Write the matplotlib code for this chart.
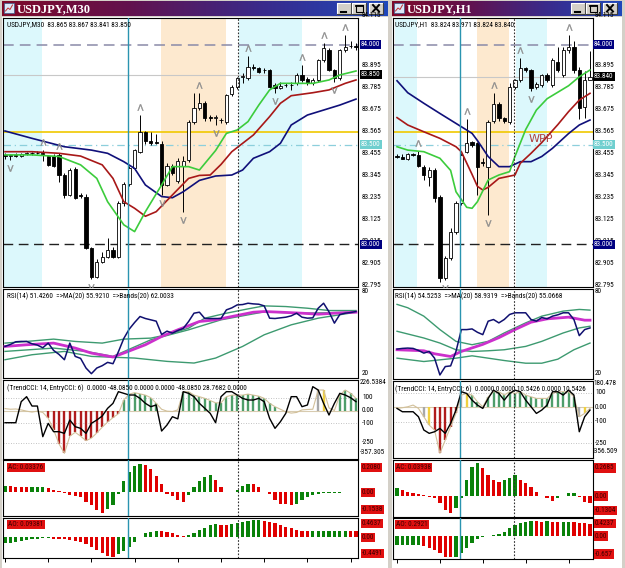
import matplotlib
matplotlib.use('Agg')
import matplotlib.pyplot as plt
from matplotlib.patches import Rectangle
from matplotlib.colors import LinearSegmentedColormap
from matplotlib.transforms import blended_transform_factory as btf
from matplotlib import font_manager
import numpy as np

# ======================= DATA =======================
# ---- Left window: USDJPY, M30 (66 bars) ----
m30_open = [83.445,83.440,83.445,83.442,83.450,83.456,83.460,83.455,83.440,83.440,83.448,83.347,83.247,83.377,83.245,83.238,82.979,82.837,82.912,82.937,
            82.971,82.937,83.205,83.300,83.380,83.465,83.561,83.518,83.512,83.505,83.297,83.390,83.315,83.390,83.423,83.615,83.682,83.707,83.640,83.632,
            83.625,83.615,83.755,83.791,83.838,83.833,83.891,83.883,83.875,83.875,83.798,83.785,83.798,83.800,83.807,83.850,83.830,83.807,83.825,83.925,
            83.975,83.875,83.833,83.975,83.992,83.995]
m30_high = [83.455,83.450,83.455,83.458,83.462,83.465,83.468,83.475,83.448,83.450,83.455,83.355,83.380,83.385,83.255,83.250,82.985,82.925,82.962,83.030,
            82.985,83.215,83.310,83.390,83.480,83.648,83.570,83.565,83.555,83.520,83.405,83.400,83.430,83.440,83.625,83.757,83.760,83.720,83.650,83.650,
            83.635,83.755,83.800,83.840,83.860,83.945,83.905,83.890,83.885,83.880,83.810,83.815,83.810,83.812,83.860,83.900,83.840,83.835,83.930,84.008,
            83.985,83.880,83.980,84.050,84.020,84.010]
m30_low = [83.428,83.422,83.438,83.436,83.445,83.448,83.452,83.415,83.390,83.385,83.313,83.230,83.240,83.225,83.230,82.975,82.825,82.830,82.905,82.930,
           82.930,82.930,83.190,83.290,83.370,83.460,83.505,83.500,83.505,83.247,83.290,83.345,83.305,83.160,83.410,83.605,83.675,83.620,83.620,83.600,
           83.610,83.605,83.745,83.780,83.810,83.825,83.875,83.858,83.860,83.785,83.760,83.780,83.790,83.775,83.800,83.815,83.800,83.800,83.815,83.915,
           83.870,83.815,83.825,83.965,83.985,83.975]
m30_close = [83.440,83.445,83.442,83.450,83.456,83.460,83.455,83.452,83.398,83.390,83.347,83.247,83.372,83.233,83.240,82.979,82.837,82.912,82.937,82.971,
             82.937,83.205,83.300,83.380,83.473,83.565,83.518,83.510,83.510,83.297,83.390,83.355,83.415,83.415,83.615,83.682,83.707,83.632,83.632,83.640,
             83.622,83.748,83.791,83.833,83.842,83.891,83.883,83.863,83.872,83.791,83.785,83.795,83.800,83.797,83.850,83.825,83.807,83.825,83.925,83.983,
             83.875,83.833,83.975,83.991,83.995,83.990]
m30_up_fractals = [7, 10, 25, 36, 45, 55, 59, 63]
m30_dn_fractals = [1, 16, 29, 33, 39, 50, 61]
m30_fast_x = [0,5,10,14,17,19,22,24,26,29,31,34,36,39,41,43,45,47,49,51,53,57,60,62,65]
m30_fast = [83.448,83.448,83.440,83.398,83.330,83.213,83.097,83.063,83.163,83.297,83.389,83.389,83.372,83.470,83.556,83.573,83.615,83.698,83.774,83.807,83.807,83.807,83.824,83.849,83.869]
m30_mid_x = [0,5,10,14,18,20,22,24,26,28,31,34,36,38,40,42,44,46,49,51,53,57,60,63,65]
m30_mid = [83.464,83.464,83.456,83.442,83.398,83.330,83.213,83.180,83.140,83.163,83.247,83.330,83.345,83.347,83.400,83.464,83.506,83.548,83.640,83.707,83.745,83.760,83.774,83.807,83.824]
m30_slow_x = [0,5,11,16,19,22,24,26,29,31,33,36,39,42,44,46,49,51,53,56,59,62,65]
m30_slow = [83.568,83.531,83.489,83.472,83.456,83.414,83.380,83.297,83.239,83.233,83.263,83.320,83.342,83.347,83.372,83.431,83.464,83.506,83.598,83.648,83.673,83.698,83.728]
m30_sessions = [(-0.4, 6.85, 'asia'), (28.9, 40.9, 'europe'), (43.3, 55.0, 'asia')]
m30_vlines = [22.8, 43.1]
m30_bid = 83.850
m30_info = 'USDJPY,M30  83.865 83.867 83.841 83.850'

m30_rsi = [40,41.5,43.5,43.75,43.75,42,41,39,42.5,37,34,30,42.5,32.5,31,23.75,19.5,23.75,25.5,28,27,36,46,53,58,62.5,61,60,59,49,
           51.5,50,52,53.5,58.75,65,65.75,61,61,61,61,67.5,69,71.25,71.5,72.5,72,71.75,70.5,61.25,61,61.5,62,63,65,62,61.25,61.5,68.75,72.5,
           66,57.5,64,65,65.5,66.25]
m30_rsi_ma_x = [0,4,9,13,16,20,22,26,29,32,36,39,42,46,48,51,55,58,61,65]
m30_rsi_ma = [40,41.25,42.5,38.75,35,32,35,41.25,47.5,52.5,58.75,60,62.5,65.75,66.25,65.75,65,64.25,65,65.75]
m30_band_up_x = [0,4,9,13,18,22,27,30,34,37,41,45,48,52,56,60,65]
m30_band_up = [42.5,43.75,45.5,43.75,42.5,45.5,46.25,48.75,53.75,61.25,65,68.25,70.5,70,68.75,67,67]
m30_band_mid_x = [0,9,15,20,27,34,40,48,55,65]
m30_band_mid = [36.25,38.75,36.25,32.5,45,52.5,60,66,65,65.75]
m30_band_lo_x = [0,5,11,16,24,30,35,39,44,48,53,58,65]
m30_band_lo = [30,33.75,36.25,32.5,31.25,28.75,27.5,31.25,40,48.75,56.25,61.25,65.75]
m30_rsi_text = 'RSI(14) 51.4260  =>MA(20) 55.9210  =>Bands(20) 62.0033'

m30_cci_trend = [15,10,12,5,-5,-12,-5,-15,-60,-150,-260,-334,-200,-170,-200,-235,-215,-175,-130,-90,-55,-25,82,128,139,130,120,100,56,10,
                 -5,-8,5,147,147,120,108,95,78,60,60,108,120,120,120,128,120,112,95,56,30,10,-10,-20,-15,5,8,10,160,160,
                 20,0,120,160,135,95]
m30_cci_state = 'nnnnnnnnrrrrrrrrrrrrrrgggggggnnnnggggggggggggggggggnnnnnnnkynngggg'
m30_cci_entry = [-95,-95,-95,69,108,35,35,-204,-100,-165,-165,-178,-74,-126,-139,-178,-100,-74,-43,17,56,147,134,121,121,95,56,30,43,-160,
                 -113,-48,-65,147,134,108,56,17,-22,-95,108,147,147,121,95,82,82,95,69,-61,-139,-87,-22,108,108,30,43,186,160,56,
                 -35,56,134,121,100,69]
m30_cci_text = '(TrendCCI: 14, EntryCCI: 6)  0.0000 -48.0850 0.0000 0.0000 -48.0850 28.7682 0.0000'
m30_cci_labels = [('226.5384', 'top'), ('100', 100), ('0.00', 0), ('-100', -100), ('-250', -250), ('-357.305', 'bottom')]

m30_ac = [0.050,0.045,0.0425,0.0375,0.036,0.037,0.038,0.039,0.0325,0.0175,0.005,-0.0075,-0.025,-0.030,-0.0375,-0.075,-0.100,-0.1375,-0.1625,-0.125,
          -0.095,-0.0125,0.0875,0.150,0.200,0.2175,0.2075,0.175,0.125,0.0625,-0.0125,-0.0325,-0.0575,-0.075,-0.025,0.0425,0.0875,0.1175,0.1325,0.0925,
          0.0375,0.002,-0.001,0.0175,0.050,0.0625,0.060,0.0425,0.000,-0.0125,-0.0575,-0.0875,-0.0925,-0.100,-0.0875,-0.0625,-0.0375,-0.025,-0.0125,-0.0075,
          -0.005,-0.004,-0.003,-0.002,-0.001,0.000]
m30_ao = [-0.148,-0.131,-0.107,-0.082,-0.066,-0.049,-0.041,-0.025,-0.022,-0.033,-0.041,-0.049,-0.066,-0.082,-0.107,-0.164,-0.246,-0.312,-0.394,-0.459,
          -0.476,-0.410,-0.328,-0.230,-0.107,0.005,0.098,0.139,0.164,0.162,0.131,0.098,0.057,0.033,0.057,0.115,0.180,0.221,0.303,0.328,
          0.303,0.300,0.328,0.361,0.385,0.410,0.426,0.430,0.410,0.385,0.344,0.303,0.262,0.221,0.180,0.164,0.156,0.158,0.160,0.161,
          0.162,0.164,0.165,0.166,0.160,0.155]
m30_ac_text, m30_ac_lbl = 'AC: 0.03376', ['0.2080', '0.00', '-0.1538']
m30_ao_text, m30_ao_lbl = 'AO: 0.09381', ['0.4637', '0.00', '-0.4491']

# ---- Right window: USDJPY, H1 (37 bars) ----
h1_open = [83.440,83.438,83.427,83.451,83.447,83.389,83.339,83.372,83.238,82.828,82.929,83.063,83.205,83.464,83.514,83.506,83.414,83.389,83.620,83.702,
           83.631,83.615,83.790,83.824,83.882,83.874,83.790,83.799,83.849,83.799,83.916,83.849,83.974,83.990,83.874,83.690,83.824]
h1_high = [83.450,83.452,83.455,83.458,83.470,83.395,83.385,83.380,83.245,82.940,83.080,83.215,83.455,83.630,83.520,83.515,83.430,83.625,83.757,83.712,
           83.640,83.810,83.830,83.933,83.890,83.880,83.815,83.855,83.860,83.935,83.990,83.990,84.050,84.020,83.890,83.870,83.971]
h1_low = [83.432,83.425,83.420,83.440,83.388,83.322,83.290,83.213,82.810,82.820,82.920,83.050,83.195,83.455,83.490,83.247,83.390,83.146,83.610,83.620,
          83.610,83.605,83.780,83.815,83.865,83.770,83.780,83.790,83.815,83.790,83.865,83.840,83.960,83.860,83.630,83.633,83.824]
h1_close = [83.438,83.428,83.451,83.445,83.394,83.347,83.372,83.230,82.828,82.929,83.063,83.205,83.448,83.506,83.498,83.389,83.405,83.615,83.702,83.631,
            83.620,83.790,83.824,83.882,83.874,83.785,83.802,83.849,83.824,83.924,83.874,83.974,83.991,83.874,83.682,83.824,83.840]
h1_up_fractals = [4, 13, 18, 23, 32]
h1_dn_fractals = [9, 17, 25]
h1_fast_x = [0,2,5,8,10,11,13,14,15,17,19,21,22,24,26,28,32,34,36]
h1_fast = [83.489,83.472,83.464,83.431,83.370,83.263,83.185,83.180,83.213,83.322,83.347,83.364,83.440,83.575,83.673,83.730,83.795,83.840,83.874]
h1_mid_x = [0,2,5,8,11,12,14,15,16,17,19,22,23,25,27,30,32,34,36]
h1_mid = [83.635,83.598,83.564,83.531,83.489,83.464,83.350,83.290,83.272,83.285,83.330,83.347,83.406,83.456,83.510,83.600,83.665,83.723,83.757]
h1_slow_x = [0,2,5,8,11,14,15,17,19,21,23,25,27,29,32,34,36]
h1_slow = [83.820,83.760,83.707,83.656,83.606,83.556,83.520,83.440,83.389,83.389,83.414,83.414,83.440,83.481,83.555,83.598,83.623]
h1_sessions = [(-0.4, 3.73, 'asia'), (14.9, 20.9, 'europe'), (22.2, 28.0, 'asia')]
h1_vlines = [11.75, 21.8]
h1_bid = 83.840
h1_info = 'USDJPY,H1  83.824 83.971 83.824 83.840'

h1_rsi = [38.5,39,39.25,39,37.5,35.5,36.75,31.75,19.25,25.5,26,36.75,53,53,53.5,51,49.25,59.25,60.5,58,
          60.5,64.25,65.5,65.5,65.5,60.5,59.25,62,61,63,64,65.5,65.5,60.5,48.5,53,54.25]
h1_rsi_ma_x = [0,5,7,10,12,16,19,22,25,28,32,35,36]
h1_rsi_ma = [38,37.25,35,33,36.75,42,47,53,58.5,61,62.25,60,60]
h1_band_up_x = [0,2,5,8,11,14,17,20,24,27,31,34,36]
h1_band_up = [71.75,69.25,63,53,44.25,41.75,44.25,50.5,58,63,66.75,68,67.5]
h1_band_mid_x = [0,5,8,11,14,17,20,24,27,31,34,36]
h1_band_mid = [51.75,46.75,43,38,36.75,37.25,38,40.5,44.25,50.5,54.25,55.5]
h1_band_lo_x = [0,5,8,11,14,17,20,24,27,30,33,36]
h1_band_lo = [31.75,29.25,30.5,31.75,33.5,31.75,30,28,28,31,38,43]
h1_rsi_text = 'RSI(14) 54.5253  =>MA(20) 58.9319  =>Bands(20) 55.0668'

h1_cci_trend = [-8,-3.4,3.4,15,-8,-65.5,-123,-157,-318,-226,-134,-42.5,84,95,84,38,3.4,72,107,107,
                84,107,95,107,84,72,61,61,61,95,107,107,107,72,-65.5,-42.5,-8]
h1_cci_state = 'nnnnnkyrrrrrkyggggggggggggggggggggkyn'
h1_cci_entry = [-8,-31,-31,-31,-65.5,-157,-180,-169,-146,-180,-111,-19.5,107,95,49,15,-8,61,118,95,
                49,95,118,107,49,3.4,-42.5,-19.5,15,107,107,84,118,84,-169,-65.5,-19.5]
h1_cci_text = '(TrendCCI: 14, EntryCCI: 6)  0.0000 0.0000 10.5426 0.0000 10.5426'
h1_cci_labels = [('180.478', 'top'), ('100', 100), ('0.00', 0), ('-100', -100), ('-250', -250), ('-356.509', 'bottom')]

h1_ac = [0.062,0.049,0.030,0.022,0.0135,0.008,-0.005,-0.019,-0.059,-0.113,-0.140,-0.100,-0.019,0.130,0.238,0.265,0.224,0.170,0.130,0.116,
         0.130,0.143,0.170,0.130,0.103,0.076,0.035,0.000,-0.019,-0.038,-0.019,0.000,0.022,0.023,-0.011,-0.046,-0.054]
h1_ao = [-0.286,-0.281,-0.275,-0.270,-0.265,-0.306,-0.377,-0.428,-0.530,-0.632,-0.653,-0.632,-0.530,-0.377,-0.224,-0.102,-0.020,0.005,0.031,0.061,
         0.133,0.235,0.337,0.388,0.439,0.469,0.465,0.439,0.445,0.430,0.425,0.439,0.442,0.439,0.408,0.388,0.357]
h1_ac_text, h1_ac_lbl = 'AC: 0.03938', ['0.2685', '0.00', '-0.1304']
h1_ao_text, h1_ao_lbl = 'AO: 0.2921', ['0.4237', '0.00', '-0.657']

price_ticks = [84.115, 83.895, 83.785, 83.675, 83.565, 83.455, 83.345, 83.235, 83.125, 83.015, 82.905, 82.795]
level_boxes = [(84.000, '#000080', 'white'), (83.500, '#6fcfcf', 'white'), (83.000, '#000080', 'white')]

# ======================= FONTS =======================
_names = {f.name for f in font_manager.fontManager.ttflist}
SANS, FS = 'Liberation Sans', 4.6
for cand in ('Liberation Sans Narrow', 'DejaVu Sans Condensed', 'Roboto Condensed'):
    if cand in _names:
        SANS, FS = cand, 5.2
        break

# ======================= FIGURE =======================
W, H = 625, 568
fig = plt.figure(figsize=(W / 100, H / 100), dpi=100)
fig.patch.set_facecolor('#d4d0c8')
bg = fig.add_axes([0, 0, 1, 1], zorder=0)
bg.axis('off')


def rect(x0, y0, x1, y1, **kw):
    bg.add_patch(Rectangle((x0, y0), x1 - x0, y1 - y0, **kw))


cmap_tb = LinearSegmentedColormap.from_list('tb', ['#7e0a2a', '#62124e', '#3a2a8a', '#1f48bb'])
grad = np.linspace(0, 1, 256).reshape(1, -1)


def window_frame(x0, x1, title):
    rect(x0, 17, x1, H, fc='white', ec='none', zorder=0.5)
    bg.imshow(grad, cmap=cmap_tb, extent=[x0, x1, 16, 1], aspect='auto', zorder=1)
    rect(x0 + 2, 3, x0 + 12, 13, fc='#dce8f8', ec='#3a5a8a', lw=0.5, zorder=2)
    bg.plot([x0 + 3.5, x0 + 6, x0 + 8, x0 + 10.5], [11, 8, 9.5, 5], color='#c03030', lw=0.7, zorder=3)
    bg.text(x0 + 15, 8.8, title, color='white', fontsize=9, fontweight='bold',
            family='Liberation Serif', va='center', ha='left', zorder=3)
    bx = [x1 - 51, x1 - 36, x1 - 19]
    for i, b in enumerate(bx):
        rect(b, 3, b + 14, 14, fc='#d4d0c8', ec='none', zorder=2)
        bg.plot([b, b, b + 14], [14, 3, 3], color='white', lw=0.8, zorder=3)
        bg.plot([b, b + 14, b + 14], [14, 14, 3], color='#404040', lw=0.8, zorder=3)
        if i == 0:
            bg.plot([b + 4, b + 9], [11.5, 11.5], color='black', lw=1.5, zorder=4)
        elif i == 1:
            rect(b + 3.5, 5, b + 10.5, 11.5, fc='none', ec='black', lw=0.8, zorder=4)
            bg.plot([b + 3.5, b + 10.5], [5.5, 5.5], color='black', lw=1.3, zorder=4)
        else:
            bg.plot([b + 4, b + 10], [5, 11.5], color='black', lw=1.4, zorder=4)
            bg.plot([b + 4, b + 10], [11.5, 5], color='black', lw=1.4, zorder=4)


window_frame(2, 388, 'USDJPY,M30')
window_frame(392, 622, 'USDJPY,H1')
bg.set_xlim(0, W)
bg.set_ylim(H, 0)


def pane(box, xlim, ylim):
    x0, y0, x1, y1 = box
    ax = fig.add_axes([x0 / W, 1 - y1 / H, (x1 - x0) / W, (y1 - y0) / H], zorder=2)
    ax.set_facecolor('white')
    ax.set_xlim(*xlim)
    ax.set_ylim(*ylim)
    ax.set_xticks([])
    ax.set_yticks([])
    for s in ax.spines.values():
        s.set_color('black')
        s.set_linewidth(0.8)
    return ax


def rtext(ax, xpx, y, s, box=None, fc='black', color='black', frac=False, va='center'):
    tr = btf(bg.transData, ax.transAxes if frac else ax.transData)
    kw = dict(fontsize=FS, family=SANS, color=color, ha='left', va=va, transform=tr, zorder=10, clip_on=False)
    if box:
        kw['bbox'] = dict(boxstyle='square,pad=0.15', fc=fc, ec='none')
    ax.text(xpx, y, s, **kw)


def candles(ax, o, h, l, c):
    o, h, l, c = map(np.asarray, (o, h, l, c))
    x = np.arange(len(o))
    ax.vlines(x, l, h, color='black', lw=0.7, zorder=4)
    bull = c >= o
    bot = np.minimum(o, c)
    hgt = np.maximum(np.abs(c - o), 0.002)
    ax.bar(x[bull], hgt[bull], bottom=bot[bull], width=0.62, color='white', edgecolor='black', lw=0.6, zorder=5)
    ax.bar(x[~bull], hgt[~bull], bottom=bot[~bull], width=0.62, color='black', edgecolor='black', lw=0.6, zorder=5)


sess_col = {'asia': '#dcf8fc', 'europe': '#fde9cf'}


def draw_chart(cfg):
    (x0, x1, axx, ptx, xlim, o, h, l, c, upf, dnf, fast, mid, slow, sessions, bid, info,
     rsi, rma, bup, bmid, blo, rsitxt, ctrend, cstate, centry, ctxt, clabels, cylim,
     ac, ao, actxt, aclbl, aotxt, aolbl, acylim, aoylim, ys) = cfg
    axes = []
    main = pane((x0, ys[0][0], x1, ys[0][1]), xlim, (82.785, 84.135))
    axes.append(main)
    for a, b, k in sessions:
        main.axvspan(a, b, color=sess_col[k], lw=0, zorder=0)
    main.axhline(84.000, color='#8a8aa8', lw=1.1, ls=(0, (7, 4)), zorder=1)
    main.axhline(bid, color='#c8c8c8', lw=0.8, zorder=1)
    main.axhline(83.565, color='#f0c800', lw=1.2, zorder=1)
    main.axhline(83.500, color='#8ccfdc', lw=0.9, ls=(0, (6, 3, 1, 3)), zorder=1)
    main.axhline(83.000, color='#202020', lw=1.0, ls=(0, (7, 4)), zorder=1)
    candles(main, o, h, l, c)
    main.plot(slow[0], slow[1], color='#10107a', lw=1.2, zorder=6)
    main.plot(mid[0], mid[1], color='#a81818', lw=1.2, zorder=6)
    main.plot(fast[0], fast[1], color='#3ccc3c', lw=1.2, zorder=6)
    h_arr, l_arr = np.asarray(h), np.asarray(l)
    main.scatter(upf, h_arr[upf] + 0.04, marker=r'$\Lambda$', s=20, color='#8c8c8c', lw=0.3, zorder=7)
    main.scatter(dnf, l_arr[dnf] - 0.04, marker=r'$\mathsf{V}$', s=20, color='#8c8c8c', lw=0.3, zorder=7)
    main.text(0.012, 0.987, info, transform=main.transAxes, fontsize=FS, family=SANS, va='top', ha='left', zorder=8)
    main.text(axx, 83.53, 'WPP', fontsize=8, family='DejaVu Sans', color='#b04040', va='center', ha='left', zorder=8)
    for p in price_ticks:
        yy = p if p < 84.1 else p + 0.035
        rtext(main, ptx, yy, f'{p:.3f}')
    for p, fc, col in level_boxes:
        rtext(main, ptx - 1, p, f'{p:.3f}', box=True, fc=fc, color=col)
    rtext(main, ptx - 1, bid, f'{bid:.3f}', box=True, fc='black', color='white')

    rax = pane((x0, ys[1][0], x1, ys[1][1]), xlim, (16.25, 83.2))
    axes.append(rax)
    rax.plot(bup[0], bup[1], color='#3d9a70', lw=1.0, zorder=2)
    rax.plot(bmid[0], bmid[1], color='#3d9a70', lw=1.0, zorder=2)
    rax.plot(blo[0], blo[1], color='#3d9a70', lw=1.0, zorder=2)
    rax.plot(rma[0], rma[1], color='#cc30cc', lw=2.0, zorder=3)
    rax.plot(np.arange(len(rsi)), rsi, color='#101070', lw=1.1, zorder=4)
    rax.text(0.012, 0.96, rsitxt, transform=rax.transAxes, fontsize=FS, family=SANS, va='top', ha='left', zorder=8)
    rtext(rax, ptx, 81, '80')
    rtext(rax, ptx, 20, '20')

    cax = pane((x0, ys[2][0], x1, ys[2][1]), xlim, cylim)
    axes.append(cax)
    colmap = {'r': '#b01c1c', 'g': '#4e9e6a', 'k': '#a8a8a8', 'y': '#f0d040'}
    xs = np.arange(len(ctrend))
    for st, col in colmap.items():
        sel = np.array([ch == st for ch in cstate])
        cax.vlines(xs[sel], 0, np.asarray(ctrend)[sel], color=col, lw=1.7, zorder=2)
    cax.axhline(0, color='#d8cbb0', lw=0.8, zorder=1)
    for lv in (100, -100, -250):
        cax.axhline(lv, color='#b0b0b0', lw=0.6, ls=(0, (1, 2)), zorder=1)
    cax.plot(xs, ctrend, color='#d2c09a', lw=0.8, zorder=3)
    cax.plot(xs, centry, color='black', lw=1.0, zorder=4)
    cax.text(0.012, 0.95, ctxt, transform=cax.transAxes, fontsize=FS, family=SANS, va='top', ha='left', zorder=8)
    for s, v in clabels:
        if v == 'top':
            rtext(cax, ptx - 2, 0.97, s, frac=True)
        elif v == 'bottom':
            rtext(cax, ptx - 2, 0.08, s, frac=True)
        else:
            rtext(cax, ptx, v, s)

    for k, (vals, ylim_, txt, lbl) in enumerate(((ac, acylim, actxt, aclbl), (ao, aoylim, aotxt, aolbl))):
        a = pane((x0, ys[3 + k][0], x1, ys[3 + k][1]), xlim, ylim_)
        axes.append(a)
        v = np.asarray(vals)
        up = np.r_[True, v[1:] > v[:-1]]
        xx = np.arange(len(v))
        a.bar(xx[up], v[up], width=0.62, color='#0a820a', lw=0, zorder=2)
        a.bar(xx[~up], v[~up], width=0.62, color='#e00000', lw=0, zorder=2)
        a.text(0.015, 0.93, txt, transform=a.transAxes, fontsize=FS, family=SANS, color='#400000',
               va='top', ha='left', zorder=8, bbox=dict(boxstyle='square,pad=0.15', fc='#e01010', ec='none'))
        rtext(a, ptx, 0.86, lbl[0], box=True, fc='#e01010', color='#400000', frac=True)
        rtext(a, ptx, 0.0, lbl[1], box=True, fc='#e01010', color='#400000')
        rtext(a, ptx, 0.12, lbl[2], box=True, fc='#e01010', color='#400000', frac=True)
        if k == 1:
            a.set_xticks(np.arange(0, len(v), 8))
            a.tick_params(axis='x', direction='out', length=3, width=0.7, labelbottom=False, color='black')
            a.set_xlim(*xlim)
    return axes


def all_vlines(axes, vls):
    for ax_ in axes:
        ax_.axvline(vls[0], color='#2a94b0', lw=1.0, zorder=6)
        ax_.axvline(vls[1], color='#303030', lw=0.8, ls=(0, (1.5, 1.5)), zorder=6)


boxes_L = [(18, 287), (289, 378), (380, 459), (460, 516), (518, 558)]
axL = draw_chart((3, 358, 247, 362, (-0.37, 65.37), m30_open, m30_high, m30_low, m30_close,
                  m30_up_fractals, m30_dn_fractals, (m30_fast_x, m30_fast), (m30_mid_x, m30_mid), (m30_slow_x, m30_slow),
                  m30_sessions, m30_bid, m30_info,
                  m30_rsi, (m30_rsi_ma_x, m30_rsi_ma), (m30_band_up_x, m30_band_up), (m30_band_mid_x, m30_band_mid),
                  (m30_band_lo_x, m30_band_lo), m30_rsi_text,
                  m30_cci_trend, m30_cci_state, m30_cci_entry, m30_cci_text, m30_cci_labels, (-378, 238),
                  m30_ac, m30_ao, m30_ac_text, m30_ac_lbl, m30_ao_text, m30_ao_lbl, (-0.182, 0.245), (-0.509, 0.475), boxes_L))
all_vlines(axL, m30_vlines)

boxes_R = [(18, 287), (289, 379), (381, 458), (460, 517), (518, 559)]
axR = draw_chart((393, 593, 24.5, 595, (-0.75, 36.56), h1_open, h1_high, h1_low, h1_close,
                  h1_up_fractals, h1_dn_fractals, (h1_fast_x, h1_fast), (h1_mid_x, h1_mid), (h1_slow_x, h1_slow),
                  h1_sessions, h1_bid, h1_info,
                  h1_rsi, (h1_rsi_ma_x, h1_rsi_ma), (h1_band_up_x, h1_band_up), (h1_band_mid_x, h1_band_mid),
                  (h1_band_lo_x, h1_band_lo), h1_rsi_text,
                  h1_cci_trend, h1_cci_state, h1_cci_entry, h1_cci_text, h1_cci_labels, (-350, 181),
                  h1_ac, h1_ao, h1_ac_text, h1_ac_lbl, h1_ao_text, h1_ao_lbl, (-0.170, 0.292), (-0.704, 0.551), boxes_R))
all_vlines(axR, h1_vlines)

fig.savefig('out.png', dpi=100, facecolor=fig.get_facecolor())
